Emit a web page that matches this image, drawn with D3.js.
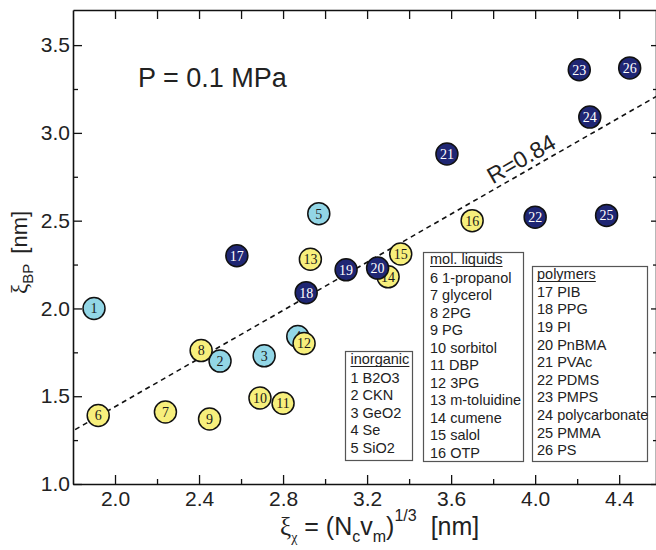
<!DOCTYPE html>
<html>
<head>
<meta charset="utf-8">
<script src="https://cdn.jsdelivr.net/npm/d3@7"></script>
<style>
  body { margin: 0; background: #fff; }
  svg { display: block; font-family: Arial, "Liberation Sans", Helvetica, sans-serif; }
</style>
</head>
<body>
<svg id="chart" width="656" height="550"></svg>
<script>
// sample numbers, x and y (nm), and which class each one belongs to
const ids = [1, 2, 3, 4, 5, 6, 7, 8, 9, 10, 11, 12, 13, 14, 15, 16, 17, 18, 19, 20, 21, 22, 23, 24, 25, 26]
const xiChi = [1.90, 2.50, 2.71, 2.87, 2.97, 1.92, 2.24, 2.41, 2.45, 2.69, 2.80, 2.90, 2.93, 3.30, 3.36, 3.70,
               2.58, 2.91, 3.10, 3.25, 3.58, 4.00, 4.21, 4.26, 4.34, 4.45]
const xiBP = [2.00, 1.70, 1.73, 1.84, 2.54, 1.39, 1.41, 1.76, 1.37, 1.49, 1.46, 1.80, 2.28, 2.18, 2.31, 2.50,
              2.30, 2.09, 2.22, 2.23, 2.88, 2.52, 3.36, 3.09, 2.53, 3.37]
const groups = ["inorganic", "inorganic", "inorganic", "inorganic", "inorganic",
                "liquid", "liquid", "liquid", "liquid", "liquid", "liquid", "liquid", "liquid", "liquid", "liquid", "liquid",
                "polymer", "polymer", "polymer", "polymer", "polymer", "polymer", "polymer", "polymer", "polymer", "polymer"]

// dashed fit line, end points
const fitX = [1.81, 4.58]
const fitY = [1.31, 3.21]

const xMajor = [2.0, 2.4, 2.8, 3.2, 3.6, 4.0, 4.4]
const xMinor = [2.2, 2.6, 3.0, 3.4, 3.8, 4.2]
const yMajor = [1.0, 1.5, 2.0, 2.5, 3.0, 3.5]
const yMinor = [1.25, 1.75, 2.25, 2.75, 3.25]

const inorganicNames = ["1 B2O3", "2 CKN", "3 GeO2", "4 Se", "5 SiO2"]
const liquidNames = ["6 1-propanol", "7 glycerol", "8 2PG", "9 PG", "10 sorbitol", "11 DBP", "12 3PG",
                     "13 m-toluidine", "14 cumene", "15 salol", "16 OTP"]
const polymerNames = ["17 PIB", "18 PPG", "19 PI", "20 PnBMA", "21 PVAc", "22 PDMS", "23 PMPS",
                      "24 polycarbonate", "25 PMMA", "26 PS"]

const fillOf = { inorganic: "#92d6e6", liquid: "#f7ef7c", polymer: "#1f2673" }
const textOf = { inorganic: "#1a1a1a", liquid: "#1a1a1a", polymer: "#ffffff" }

const svg = d3.select("#chart")
const x = d3.scaleLinear().domain([1.8, 4.58]).range([73, 657])
const y = d3.scaleLinear().domain([1.0, 3.7]).range([484, 10])

function styleAxis(g) {
  g.selectAll("path").attr("stroke", "#111").attr("stroke-width", 1.6)
  g.selectAll("line").attr("stroke", "#111").attr("stroke-width", 1.3)
  g.selectAll("text").attr("fill", "#222").style("font-size", "21px")
    .style("font-family", "Arial, 'Liberation Sans', sans-serif")
}

// bottom
svg.append("g").attr("transform", "translate(0,484)")
  .call(d3.axisBottom(x).tickValues(xMajor).tickSizeInner(-9).tickSizeOuter(0)
    .tickPadding(7).tickFormat(d3.format(".1f")))
  .call(styleAxis)
svg.append("g").attr("transform", "translate(0,484)")
  .call(d3.axisBottom(x).tickValues(xMinor).tickSize(-5).tickFormat(""))
  .call(g => g.select(".domain").remove())
  .call(styleAxis)
// top
svg.append("g").attr("transform", "translate(0,10)")
  .call(d3.axisTop(x).tickValues(xMajor.concat(xMinor)).tickSizeInner(-9).tickSizeOuter(0).tickFormat(""))
  .call(styleAxis)
// left
svg.append("g").attr("transform", "translate(73,0)")
  .call(d3.axisLeft(y).tickValues(yMajor).tickSizeInner(-9).tickSizeOuter(0)
    .tickPadding(3).tickFormat(d3.format(".1f")))
  .call(styleAxis)
svg.append("g").attr("transform", "translate(73,0)")
  .call(d3.axisLeft(y).tickValues(yMinor).tickSize(-5).tickFormat(""))
  .call(g => g.select(".domain").remove())
  .call(styleAxis)
// right
svg.append("g").attr("transform", "translate(656,0)")
  .call(d3.axisRight(y).tickValues(yMajor).tickSizeInner(-5).tickSizeOuter(0).tickFormat(""))
  .call(styleAxis)
svg.append("g").attr("transform", "translate(656,0)")
  .call(d3.axisRight(y).tickValues(yMinor).tickSize(-3).tickFormat(""))
  .call(g => g.select(".domain").remove())
  .call(styleAxis)

// fit line
const fitPts = fitX.map((v, i) => [v, fitY[i]])
svg.append("path")
  .attr("d", d3.line().x(d => x(d[0])).y(d => y(d[1]))(fitPts))
  .attr("fill", "none").attr("stroke", "#111").attr("stroke-width", 1.6)
  .attr("stroke-dasharray", "5,4")

const ang = Math.atan2(y(fitY[1]) - y(fitY[0]), x(fitX[1]) - x(fitX[0])) * 180 / Math.PI
const rx = 3.81
const ry = fitY[0] + (rx - fitX[0]) * (fitY[1] - fitY[0]) / (fitX[1] - fitX[0])
svg.append("text")
  .attr("transform", `translate(${x(rx)},${y(ry)}) rotate(${ang})`)
  .attr("y", -5)
  .style("font-size", "23px").attr("fill", "#222")
  .text("R=0.84")

// points
const pts = ids.map((id, i) => ({ id, x: xiChi[i], y: xiBP[i], g: groups[i] }))
const node = svg.append("g").selectAll("g").data(pts).enter().append("g")
  .attr("transform", d => `translate(${x(d.x)},${y(d.y)})`)
node.append("circle").attr("r", 11)
  .attr("fill", d => fillOf[d.g]).attr("stroke", "#111").attr("stroke-width", 1.5)
node.append("text")
  .attr("text-anchor", "middle").attr("dy", "0.35em")
  .style("font-family", "'Liberation Serif', 'Times New Roman', serif")
  .style("font-size", "14px")
  .attr("fill", d => textOf[d.g])
  .text(d => d.id)

// P label
svg.append("text").attr("x", 138).attr("y", 87)
  .style("font-size", "27px").attr("fill", "#222").text("P = 0.1 MPa")

// legend boxes
function legendBox(bx, by, bw, bh, title, titleY, items, firstY, step, pad) {
  const g = svg.append("g")
  g.append("rect").attr("x", bx).attr("y", by).attr("width", bw).attr("height", bh)
    .attr("fill", "#fff").attr("stroke", "#555").attr("stroke-width", 1.2)
  const t = g.append("text").attr("x", bx + pad).attr("y", titleY)
    .style("font-size", "14.5px").attr("fill", "#222").text(title)
  const w = t.node().getComputedTextLength()
  g.append("line").attr("x1", bx + pad).attr("x2", bx + pad + w)
    .attr("y1", titleY + 2.5).attr("y2", titleY + 2.5)
    .attr("stroke", "#222").attr("stroke-width", 1.1)
  g.selectAll(".item").data(items).enter().append("text")
    .attr("x", bx + pad).attr("y", (d, i) => firstY + i * step)
    .style("font-size", "14.5px").attr("fill", "#222").text(d => d)
}
legendBox(345.5, 351.5, 67, 109, "inorganic", 364, inorganicNames, 382.7, 17.5, 5)
legendBox(423.5, 252.5, 100, 209, "mol. liquids", 264, liquidNames, 282.7, 17.5, 6.5)
legendBox(532.5, 266.5, 115, 195, "polymers", 279, polymerNames, 296.7, 17.6, 4.5)

// x axis title
const xt = svg.append("text").attr("x", 280).attr("y", 535)
  .style("font-size", "25px").attr("fill", "#222")
xt.append("tspan").style("font-family", "'Liberation Serif', serif").style("font-size", "25px").text("ξ")
xt.append("tspan").attr("dy", 7).style("font-family", "'Liberation Serif', serif").style("font-size", "14px").text("χ")
xt.append("tspan").attr("dy", -7).text(" = (N")
xt.append("tspan").attr("dy", 7).style("font-size", "16px").text("c")
xt.append("tspan").attr("dy", -7).text("v")
xt.append("tspan").attr("dy", 7).style("font-size", "16px").text("m")
xt.append("tspan").attr("dy", -7).text(")")
xt.append("tspan").attr("dy", -14).style("font-size", "16px").text("1/3")
xt.append("tspan").attr("dy", 14).attr("dx", 14).text("[nm]")

// y axis title
const yt = svg.append("text").attr("transform", "translate(27,294) rotate(-90)")
  .style("font-size", "22px").attr("fill", "#222")
yt.append("tspan").style("font-family", "'Liberation Serif', serif").style("font-size", "23px").text("ξ")
yt.append("tspan").attr("dy", 6).style("font-size", "15px").text("BP")
yt.append("tspan").attr("dy", -6).attr("dx", 10).text("[nm]")
</script>
</body>
</html>
